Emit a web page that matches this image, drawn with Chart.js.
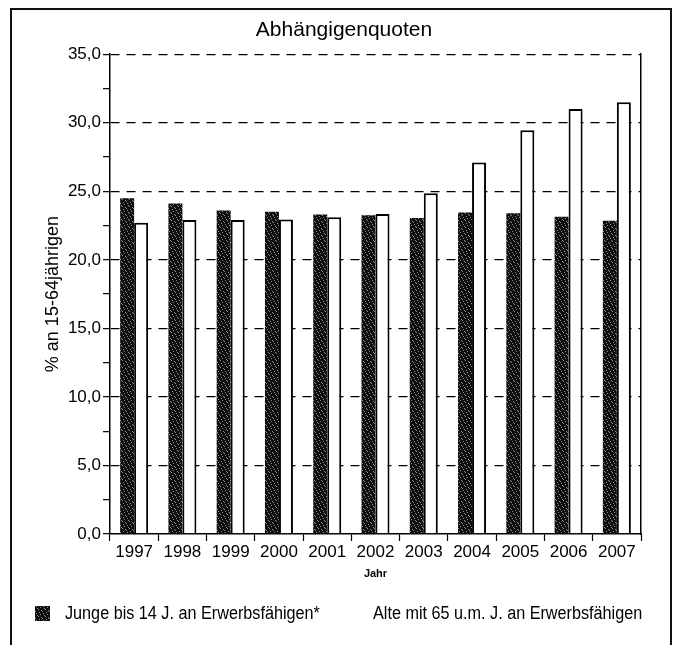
<!DOCTYPE html>
<html>
<head>
<meta charset="utf-8">
<script src="https://cdn.jsdelivr.net/npm/chart.js@4.4.1/dist/chart.umd.min.js"></script>
<style>
  body { margin: 0; background: #fff; }
  #wrap { position: relative; width: 681px; height: 645px; }
  #frame { position: absolute; left: 10px; top: 8px; width: 658px; height: 640px;
           border: 2px solid #111; border-bottom: none; pointer-events: none; }
  #legend { position: absolute; left: 0; top: 602px; width: 681px; height: 22px;
            font: 18px 'Liberation Sans', Arial, sans-serif; color: #000; }
  .item { position: absolute; top: 0; height: 22px; display: flex; align-items: center; white-space: nowrap; }
  .box { width: 15px; height: 15px; margin-right: 15px; flex: none; }
  .txt { display: inline-block; transform: scaleX(0.9); transform-origin: left center; }
</style>
</head>
<body>
<div id="wrap">
  <canvas id="chart" width="681" height="645"></canvas>
  <div id="frame"></div>
  <div id="legend"></div>
</div>
<script>
// data
const years = ['1997', '1998', '1999', '2000', '2001', '2002', '2003', '2004', '2005', '2006', '2007'];
const junge = [24.5, 24.1, 23.6, 23.5, 23.3, 23.25, 23.05, 23.45, 23.4, 23.15, 22.85];
const alte = [22.7, 22.9, 22.9, 22.95, 23.1, 23.35, 24.85, 27.1, 29.45, 31.0, 31.5];
const seriesNames = ['Junge bis 14 J. an Erwerbsfähigen*', 'Alte mit 65 u.m. J. an Erwerbsfähigen'];
const yMin = 0, yMax = 35, yMajor = 5, yMinor = 2.5;

const sans = "'Liberation Sans', Arial, sans-serif";

// speckled dark fill like the print raster
function speckle() {
  const c = document.createElement('canvas');
  c.width = 7; c.height = 7;
  const g = c.getContext('2d');
  g.fillStyle = '#0e0e0e';
  g.fillRect(0, 0, 7, 7);
  g.fillStyle = '#8c8c8c';
  [[1, 0], [5, 1], [3, 3], [6, 4], [0, 5], [4, 6], [2, 2]].forEach(p => g.fillRect(p[0], p[1], 1, 1));
  return c;
}
const dotCanvas = speckle();

const ctx = document.getElementById('chart').getContext('2d');
const darkFill = ctx.createPattern(dotCanvas, 'repeat');

const fmt = v => v.toFixed(1).replace('.', ',');

// legend drawn as html so the wide gap between items can be matched
const htmlLegend = {
  id: 'htmlLegend',
  afterUpdate(chart) {
    const el = document.getElementById('legend');
    el.innerHTML = '';
    const lefts = [35, 343];
    chart.data.datasets.forEach((ds, i) => {
      const item = document.createElement('div');
      item.className = 'item';
      item.style.left = lefts[i] + 'px';
      const box = document.createElement('span');
      box.className = 'box';
      if (i === 0) box.style.background = 'url(' + dotCanvas.toDataURL() + ') #0e0e0e';
      const txt = document.createElement('span');
      txt.className = 'txt';
      txt.textContent = ds.label;
      item.appendChild(box);
      item.appendChild(txt);
      el.appendChild(item);
    });
  }
};

const data = {
  labels: years,
  datasets: [
    {
      label: seriesNames[0],
      data: junge,
      backgroundColor: darkFill,
      borderWidth: 0,
    },
    {
      label: seriesNames[1],
      data: alte,
      backgroundColor: '#fff',
      borderColor: '#000',
      borderWidth: 2,
      borderSkipped: 'bottom',
    },
  ],
};

const myChart = new Chart(ctx, {
  type: 'bar',
  data: data,
  plugins: [htmlLegend],
  options: {
    responsive: false,
    animation: false,
    layout: { padding: { top: 18, left: 10, right: 3, bottom: 61 } },
    datasets: { bar: { categoryPercentage: 0.58, barPercentage: 1.0 } },
    plugins: {
      legend: { display: false },
      tooltip: { enabled: false },
      title: {
        display: true,
        text: 'Abhängigenquoten',
        color: '#000',
        font: { family: sans, size: 21, weight: 'normal' },
        padding: { top: 0, bottom: 11 },
      },
    },
    scales: {
      x: {
        offset: true,
        grid: { display: true, drawOnChartArea: false, offset: true, tickLength: 7, tickColor: '#000', tickWidth: 1.2 },
        border: { display: true, color: '#000', width: 1.5 },
        ticks: { color: '#000', padding: 1, maxRotation: 0, autoSkip: false, font: { family: sans, size: 17 } },
        title: {
          display: true, text: 'Jahr', color: '#000',
          font: { family: sans, size: 11, weight: 'bold' },
          padding: { top: 0, bottom: 3 },
        },
        afterFit(scale) { scale.height = 50; },
      },
      y: {
        min: yMin,
        max: yMax,
        grid: {
          color: c => (c.tick && c.tick.value % yMajor === 0 && c.tick.value > yMin) ? '#000' : 'rgba(0,0,0,0)',
          lineWidth: 1.3,
          tickLength: 7,
          tickColor: '#000',
          tickWidth: 1.2,
        },
        border: { display: true, color: '#000', width: 1.5, dash: [9, 7] },
        ticks: {
          stepSize: yMinor,
          color: '#000',
          padding: 2,
          font: { family: sans, size: 17 },
          callback: v => (v % yMajor === 0 ? fmt(v) : ''),
        },
        title: {
          display: true,
          text: '% an 15-64jährigen',
          color: '#000',
          font: { family: sans, size: 18 },
          padding: { top: 32, bottom: 0 },
        },
        afterFit(scale) { scale.width = 100; },
      },
      y2: {
        position: 'right',
        min: yMin,
        max: yMax,
        grid: { drawOnChartArea: false, drawTicks: false },
        border: { display: true, color: '#000', width: 1.5 },
        ticks: { display: false },
        afterFit(scale) { scale.width = 37; },
      },
    },
  },
});
</script>
</body>
</html>
